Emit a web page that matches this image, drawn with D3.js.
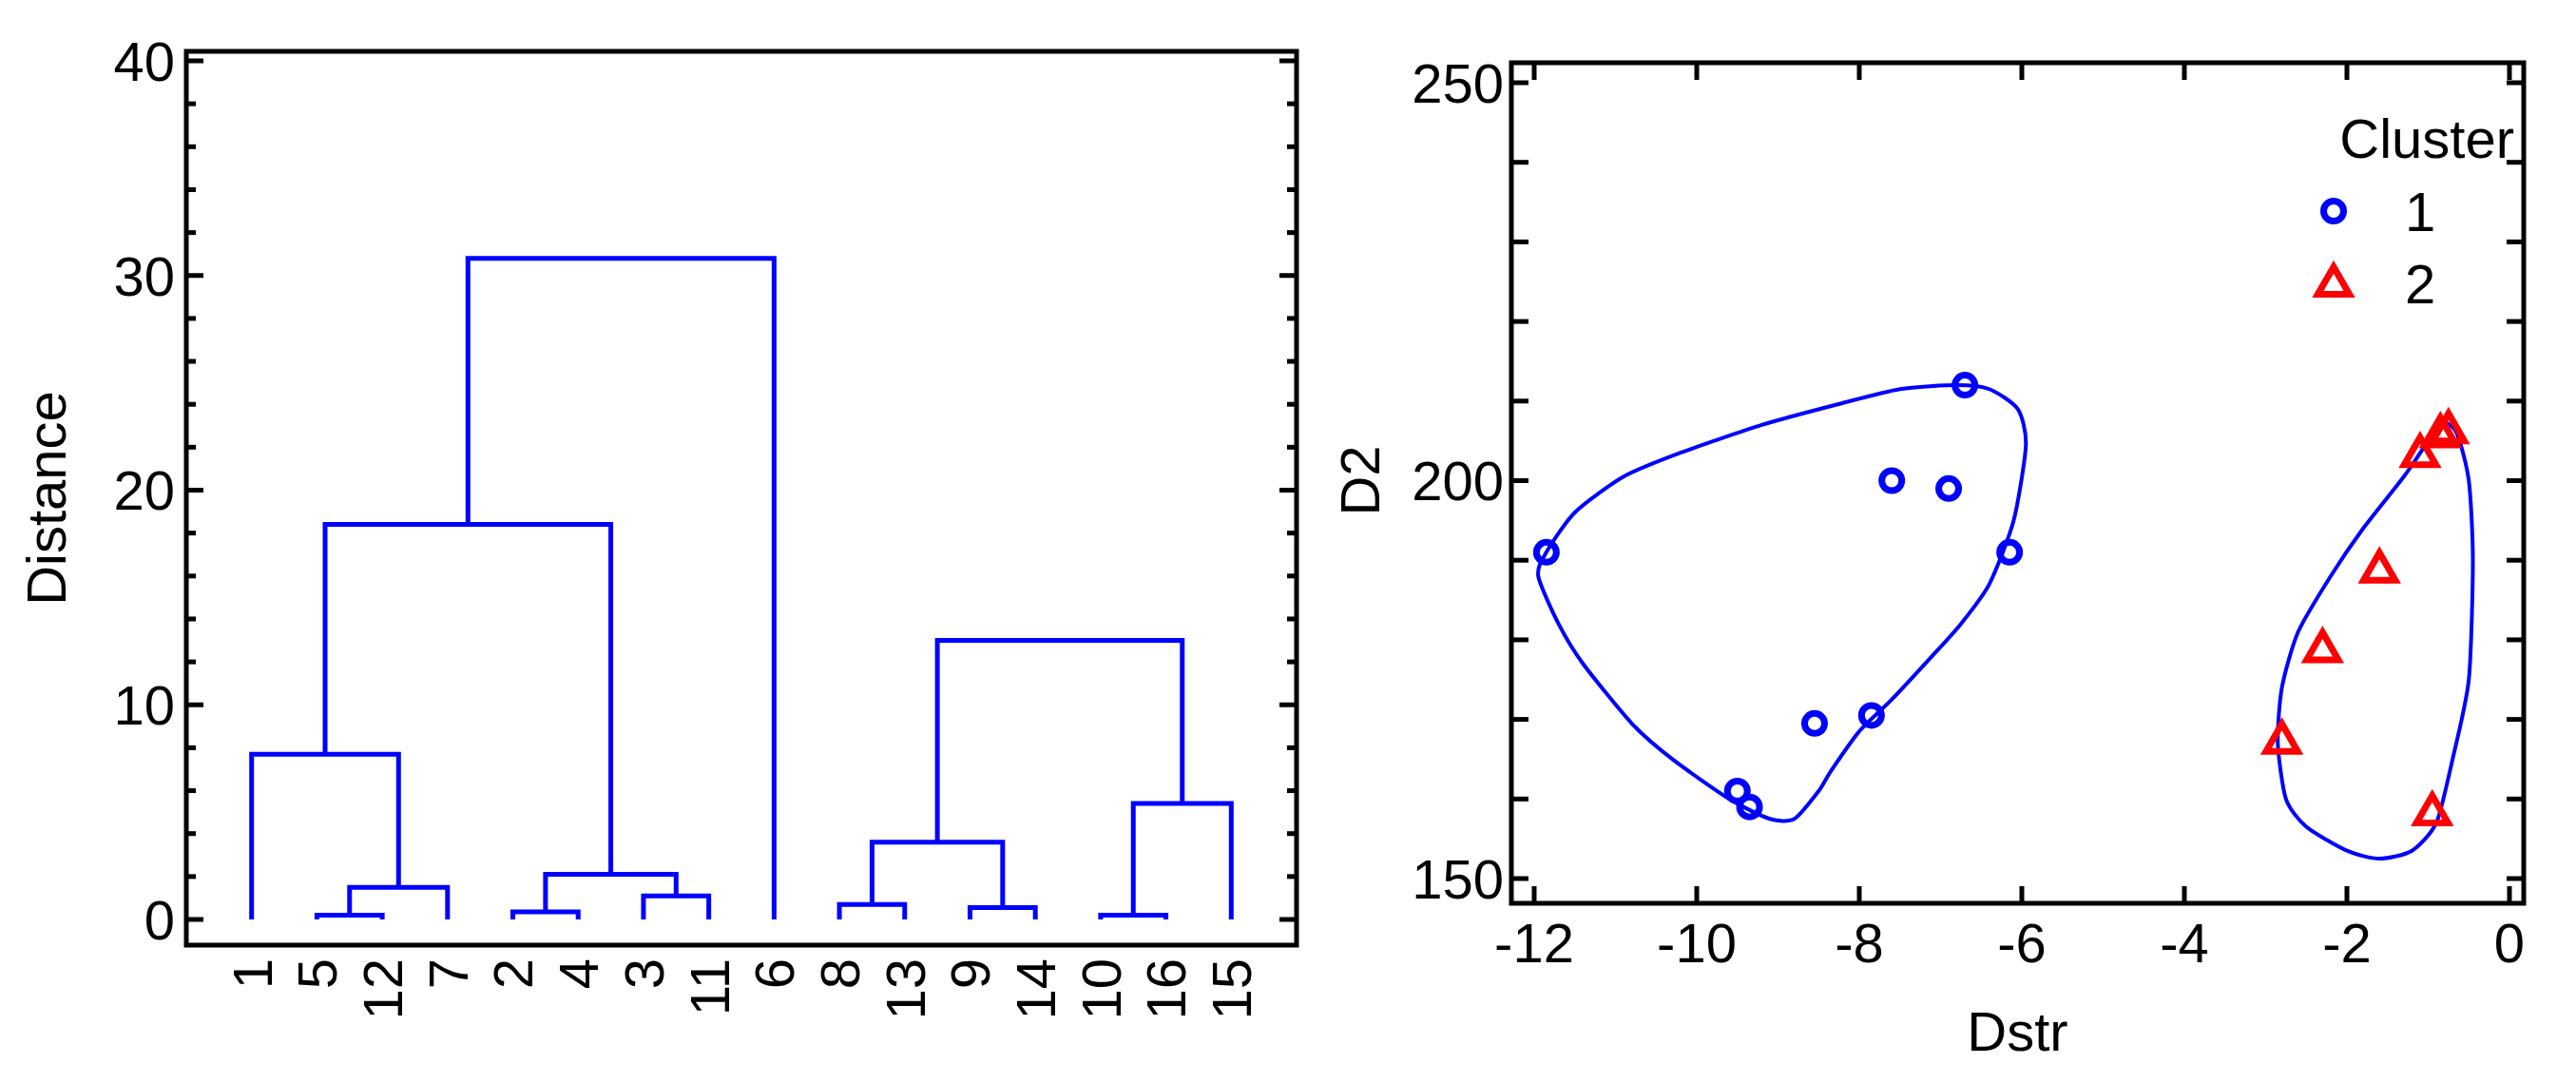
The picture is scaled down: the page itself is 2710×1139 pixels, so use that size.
<!DOCTYPE html>
<html><head><meta charset="utf-8">
<script src="https://cdn.jsdelivr.net/npm/d3@7"></script>
<style>body{margin:0;background:#fff}text{font-family:"Liberation Sans",Arial,sans-serif;fill:#000}</style>
</head><body>
<svg id="c" width="2710" height="1139"></svg>
<script>
// ---- Dendrogram data ----
const leaves = ["1","5","12","7","2","4","3","11","6","8","13","9","14","10","16","15"];
// merges: [left, right, height]; ids "Cn" refer to merge index n
const merges = [
  ["5","12",0.2],      // C0
  ["C0","7",1.5],      // C1
  ["1","C1",7.7],      // C2
  ["2","4",0.35],      // C3
  ["3","11",1.1],      // C4
  ["C3","C4",2.1],     // C5
  ["C2","C5",18.4],    // C6
  ["C6","6",30.8],     // C7
  ["8","13",0.7],      // C8
  ["9","14",0.55],     // C9
  ["C8","C9",3.6],     // C10
  ["10","16",0.2],     // C11
  ["C11","15",5.4],    // C12
  ["C10","C12",13.0]   // C13
];
const distTicks = [0,10,20,30,40];

// ---- Scatter data ----
const c1x = [-11.85,-9.5,-9.35,-8.55,-7.85,-7.6,-6.9,-6.15,-6.7];
const c1y = [191,161,159,169.5,170.5,200,199,191,212];
const c2x = [-2.8,-2.3,-1.6,-1.1,-0.85,-0.75,-0.95];
const c2y = [167.5,179,189,203.5,206,206.5,158.5];
const hull1x = [-11.85,-11.5,-10.9,-10.2,-9.2,-8.3,-7.5,-6.8,-6.4,-6.05,-5.95,-6.1,-6.4,-6.75,-7.1,-7.6,-8.0,-8.35,-8.5,-8.8,-9.1,-9.6,-10.3,-10.8,-11.4,-11.7,-11.95];
const hull1y = [191,196,200.5,203.5,207,209.5,211.5,212,211.5,209,204.5,195,187,182,178,172.5,168.5,163.5,161,157.5,157.5,160,165,169.5,177,182,188];
const hull2x = [-0.85,-0.65,-0.5,-0.45,-0.5,-0.7,-0.9,-1.2,-1.6,-2.0,-2.5,-2.75,-2.85,-2.8,-2.6,-2.2,-1.8,-1.3,-1.0];
const hull2y = [207.5,206,200,190,175,165,157,153.5,152.5,153.5,156.5,160,167,174,181,188,194,200.5,205];
const xTicks = [-12,-10,-8,-6,-4,-2,0];
const yTicks = [150,200,250];

const svg = d3.select("#c");
const blue = "#0000ff", red = "#ff0000";
const FS = 58;

// ===== Left dendrogram =====
{
  const L=196,R=1364,T=54,B=994;
  const x = d3.scalePoint().domain(leaves).range([L,R]).padding(1);
  const y = d3.scaleLinear().domain([0,40]).range([967,64]);
  const g = svg.append("g");
  const pos = {};
  leaves.forEach(l=>pos[l]={x:x(l),h:0});
  merges.forEach((m,i)=>{
    const a=pos[m[0]], b=pos[m[1]], h=m[2];
    const p = d3.path();
    p.moveTo(a.x,y(a.h)); p.lineTo(a.x,y(h)); p.lineTo(b.x,y(h)); p.lineTo(b.x,y(b.h));
    g.append("path").attr("d",p.toString()).attr("fill","none").attr("stroke",blue).attr("stroke-width",5);
    pos["C"+i]={x:(a.x+b.x)/2,h:h};
  });
  g.append("rect").attr("x",L).attr("y",T).attr("width",R-L).attr("height",B-T).attr("fill","none").attr("stroke","#000").attr("stroke-width",5);
  const minor = d3.range(0,41,2);
  minor.forEach(v=>{
    const len = v%10===0?18:10;
    g.append("line").attr("x1",L).attr("x2",L+len).attr("y1",y(v)).attr("y2",y(v)).attr("stroke","#000").attr("stroke-width",5);
    g.append("line").attr("x1",R).attr("x2",R-len).attr("y1",y(v)).attr("y2",y(v)).attr("stroke","#000").attr("stroke-width",5);
  });
  distTicks.forEach(v=>g.append("text").attr("x",L-12).attr("y",y(v)).attr("dy","0.36em").attr("text-anchor","end").attr("font-size",FS).text(v));
  leaves.forEach(l=>g.append("text").attr("transform",`translate(${x(l)},${B+14}) rotate(-90)`).attr("dy","0.36em").attr("text-anchor","end").attr("font-size",FS).text(l));
  g.append("text").attr("transform",`translate(48,${(T+B)/2}) rotate(-90)`).attr("text-anchor","middle").attr("dy","0.36em").attr("font-size",FS).text("Distance");
}

// ===== Right scatter =====
{
  const L=1590,R=2655,T=66,B=950;
  const x = d3.scaleLinear().domain([-12,0]).range([1614,2640]);
  const y = d3.scaleLinear().domain([150,250]).range([924,87]);
  const g = svg.append("g");
  g.append("rect").attr("x",L).attr("y",T).attr("width",R-L).attr("height",B-T).attr("fill","none").attr("stroke","#000").attr("stroke-width",5);
  xTicks.forEach(v=>{
    g.append("line").attr("x1",x(v)).attr("x2",x(v)).attr("y1",B).attr("y2",B-18).attr("stroke","#000").attr("stroke-width",5);
    g.append("line").attr("x1",x(v)).attr("x2",x(v)).attr("y1",T).attr("y2",T+18).attr("stroke","#000").attr("stroke-width",5);
    g.append("text").attr("x",x(v)).attr("y",B+62).attr("text-anchor","middle").attr("font-size",FS).text(v);
  });
  d3.range(150,251,10).forEach(v=>{
    g.append("line").attr("x1",L).attr("x2",L+18).attr("y1",y(v)).attr("y2",y(v)).attr("stroke","#000").attr("stroke-width",5);
    g.append("line").attr("x1",R).attr("x2",R-18).attr("y1",y(v)).attr("y2",y(v)).attr("stroke","#000").attr("stroke-width",5);
  });
  yTicks.forEach(v=>g.append("text").attr("x",L-8).attr("y",y(v)).attr("dy","0.36em").attr("text-anchor","end").attr("font-size",FS).text(v));
  g.append("text").attr("x",(L+R)/2).attr("y",1105).attr("text-anchor","middle").attr("font-size",FS).text("Dstr");
  g.append("text").attr("transform",`translate(1430,${y(200)}) rotate(-90)`).attr("text-anchor","middle").attr("dy","0.36em").attr("font-size",FS).text("D2");
  const line = d3.line().x(d=>x(d[0])).y(d=>y(d[1])).curve(d3.curveCardinalClosed.tension(0.3));
  g.append("path").attr("d",line(hull1x.map((v,i)=>[v,hull1y[i]]))).attr("fill","none").attr("stroke",blue).attr("stroke-width",4);
  g.append("path").attr("d",line(hull2x.map((v,i)=>[v,hull2y[i]]))).attr("fill","none").attr("stroke",blue).attr("stroke-width",4);
  const tri = d3.symbol().type(d3.symbolTriangle).size(480);
  c1x.forEach((v,i)=>g.append("circle").attr("cx",x(v)).attr("cy",y(c1y[i])).attr("r",10.5).attr("fill","none").attr("stroke",blue).attr("stroke-width",7));
  c2x.forEach((v,i)=>g.append("path").attr("d",tri()).attr("transform",`translate(${x(v)},${y(c2y[i])+3})`).attr("fill","none").attr("stroke",red).attr("stroke-width",7));
  // legend
  g.append("text").attr("x",2645).attr("y",166).attr("text-anchor","end").attr("font-size",FS).text("Cluster");
  g.append("circle").attr("cx",2455).attr("cy",222).attr("r",10.5).attr("fill","none").attr("stroke",blue).attr("stroke-width",7);
  g.append("text").attr("x",2530).attr("y",222).attr("dy","0.36em").attr("font-size",FS).text("1");
  g.append("path").attr("d",tri()).attr("transform","translate(2455,300)").attr("fill","none").attr("stroke",red).attr("stroke-width",7);
  g.append("text").attr("x",2530).attr("y",298).attr("dy","0.36em").attr("font-size",FS).text("2");
}
</script>
</body></html>
